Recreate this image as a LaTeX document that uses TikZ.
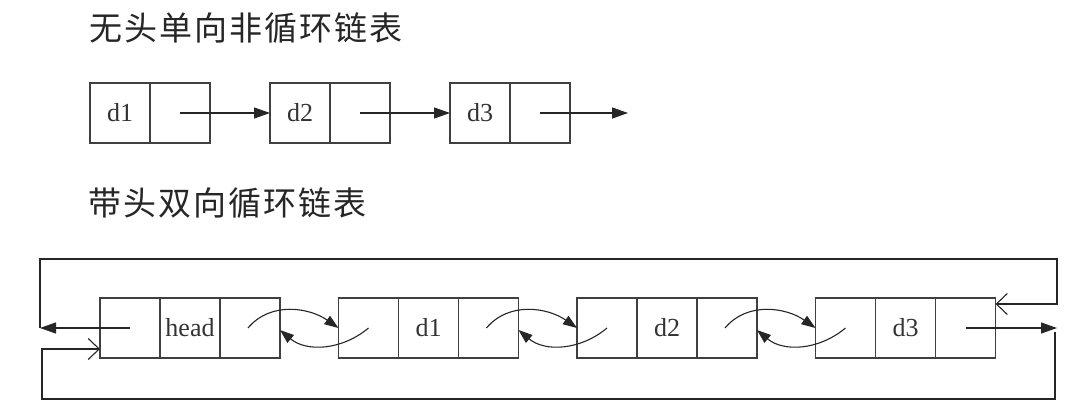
\documentclass[tikz,border=0pt]{standalone}
\usepackage{fontspec}
\newfontfamily\cjk[LetterSpace=6]{Noto Sans CJK SC}
\newfontfamily\cellfont{Liberation Serif}
\usetikzlibrary{arrows.meta,calc}
\begin{document}
\begin{tikzpicture}[x=1pt,y=1pt,
  cell/.style={draw=black!75,line width=1.2pt,minimum width=60pt,minimum height=60pt,
    inner sep=0pt,outer sep=0pt,font=\cellfont\fontsize{26}{26}\selectfont,text=black!80},
  title/.style={anchor=west,inner sep=0pt,font=\cjk\fontsize{33}{33}\selectfont,text=black!85},
  line/.style={draw=black!85,line width=1.1pt},
  farrow/.style={line,-{Triangle[length=16pt,width=11pt]}},
  carrow/.style={line,-{Triangle[length=14pt,width=10pt]}},
  oarrow/.style={line,-{Straight Barb[length=11pt,width=21pt]}}]
\fill[white] (0,0) rectangle (1074,413);
\useasboundingbox (0,0) rectangle (1074,413);

% titles
\node[title] (t1) at (89,385) {无头单向非循环链表};
\node[title] (t2) at (88,210) {带头双向循环链表};

% singly linked list
\node[cell] (t1d) at (120,300) {d1};
\node[cell] (t1p) at (180,300) {};
\node[cell] (t2d) at (300,300) {d2};
\node[cell] (t2p) at (360,300) {};
\node[cell] (t3d) at (480,300) {d3};
\node[cell] (t3p) at (540,300) {};
\coordinate (tend) at (628,300);
\draw[farrow] (t1p.center) -- (t2d.west);
\draw[farrow] (t2p.center) -- (t3d.west);
\draw[farrow] (t3p.center) -- (tend);

% doubly linked circular list
\node[cell] (b0p) at (130,85) {};
\node[cell] (b0d) at (190,85) {head};
\node[cell] (b0n) at (250,85) {};
\node[cell] (b1p) at (368.5,85) {};
\node[cell] (b1d) at (428.5,85) {d1};
\node[cell] (b1n) at (488.5,85) {};
\node[cell] (b2p) at (607,85) {};
\node[cell] (b2d) at (667,85) {d2};
\node[cell] (b2n) at (727,85) {};
\node[cell] (b3p) at (845.5,85) {};
\node[cell] (b3d) at (905.5,85) {d3};
\node[cell] (b3n) at (965.5,85) {};

\draw[carrow] ($(b0n.center)+(-2,0)$) to[out=50,in=145] (b1p.west);
\draw[carrow] (b1p.center) to[out=-140,in=-40] ($(b0n.east)+(0,-2)$);
\draw[carrow] ($(b1n.center)+(-2,0)$) to[out=50,in=145] (b2p.west);
\draw[carrow] (b2p.center) to[out=-140,in=-40] ($(b1n.east)+(0,-2)$);
\draw[carrow] ($(b2n.center)+(-2,0)$) to[out=50,in=145] (b3p.west);
\draw[carrow] (b3p.center) to[out=-140,in=-40] ($(b2n.east)+(0,-2)$);

% outer loops
\coordinate (L1) at (40,85);
\coordinate (L2) at (40,154);
\coordinate (R2) at (1057,154);
\coordinate (R1) at (1057,109);
\draw[farrow] (b0p.center) -- (L1);
\draw[oarrow] (L1) -- (L2) -- (R2) -- (R1) -- (b3n.east |- R1);

\coordinate (R3) at (1057,85);
\coordinate (R4) at (1055,81);
\coordinate (R5) at (1055,14);
\coordinate (L5) at (42,14);
\coordinate (L4) at (42,64);
\draw[farrow] (b3n.center) -- (R3);
\draw[oarrow] (R4) -- (R5) -- (L5) -- (L4) -- (b0p.west |- L4);
\end{tikzpicture}
\end{document}
